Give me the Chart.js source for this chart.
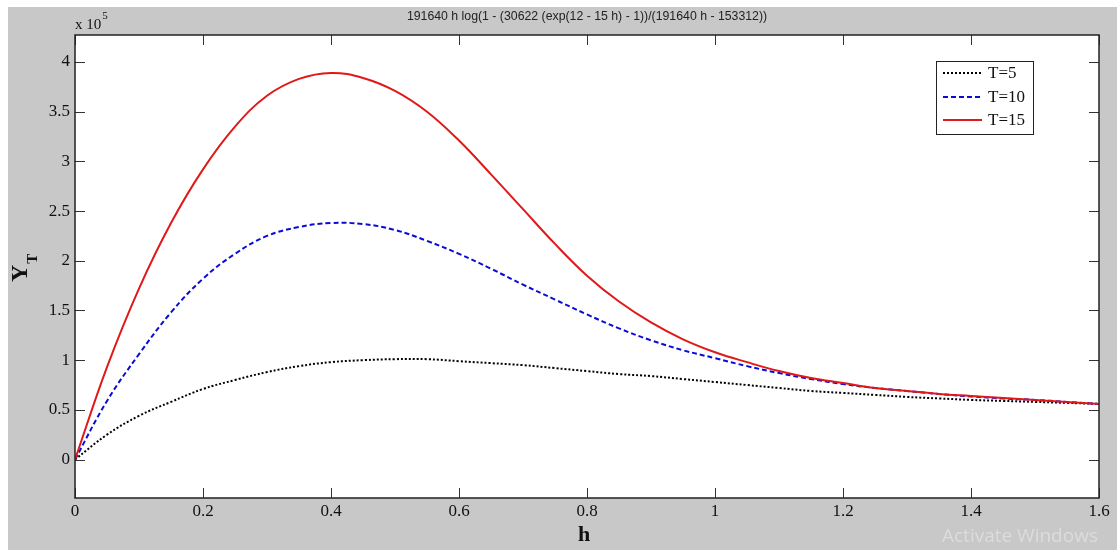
<!DOCTYPE html>
<html>
<head>
<meta charset="utf-8">
<title>Y_T versus h</title>
<script src="https://cdn.jsdelivr.net/npm/chart.js@4.4.1/dist/chart.umd.min.js"></script>
<style>
  html, body { margin: 0; padding: 0; background: #fff; }
  canvas { display: block; }
</style>
</head>
<body>
<canvas id="ytChart" width="1117" height="550"></canvas>
<script>
// h grid shared by all three curves
const hValues = [0, 0.05, 0.1, 0.15, 0.2, 0.25, 0.3, 0.35, 0.4, 0.45, 0.5, 0.55, 0.6, 0.65, 0.7, 0.75,
  0.8, 0.85, 0.9, 0.95, 1, 1.05, 1.1, 1.15, 1.2, 1.25, 1.3, 1.35, 1.4, 1.45, 1.5, 1.55, 1.6];

// Y_T in units of 1e5
const yT5 = [0, 0.25, 0.44, 0.58, 0.71, 0.80, 0.88, 0.94, 0.98, 1.00, 1.01, 1.01, 0.99, 0.97, 0.95, 0.92,
  0.89, 0.86, 0.84, 0.81, 0.78, 0.75, 0.72, 0.69, 0.67, 0.65, 0.63, 0.615, 0.60, 0.59, 0.58, 0.57, 0.56];
const yT10 = [0, 0.59, 1.06, 1.48, 1.82, 2.07, 2.25, 2.34, 2.38, 2.37, 2.31, 2.20, 2.07, 1.92, 1.76, 1.61,
  1.46, 1.32, 1.20, 1.10, 1.02, 0.94, 0.87, 0.81, 0.76, 0.72, 0.69, 0.66, 0.635, 0.615, 0.60, 0.58, 0.56];
const yT15 = [0, 0.93, 1.72, 2.38, 2.92, 3.35, 3.66, 3.83, 3.89, 3.84, 3.71, 3.50, 3.21, 2.87, 2.52, 2.17,
  1.85, 1.59, 1.38, 1.21, 1.08, 0.98, 0.89, 0.82, 0.77, 0.72, 0.69, 0.66, 0.64, 0.62, 0.60, 0.58, 0.56];

const seriesNames = ["T=5", "T=10", "T=15"];
const xTicks = [0, 0.2, 0.4, 0.6, 0.8, 1, 1.2, 1.4, 1.6];
const yTicks = [0, 0.5, 1, 1.5, 2, 2.5, 3, 3.5, 4];
const plotTitle = "191640 h log(1 - (30622 (exp(12 - 15 h) - 1))/(191640 h - 153312))";

const serif = "'Liberation Serif', 'Times New Roman', serif";

const toPoints = ys => hValues.map((h, i) => ({ x: h, y: ys[i] }));

// figure background, boxed axes with inward ticks, labels and legend
const framePlugin = {
  id: "frame",
  beforeDraw(chart) {
    const { ctx, chartArea: a, width, height } = chart;
    ctx.save();
    ctx.fillStyle = "#fff";
    ctx.fillRect(0, 0, width, height);
    ctx.fillStyle = "#c8c8c8";
    ctx.fillRect(8, 7, width - 8, height - 7);
    ctx.fillStyle = "#fff";
    ctx.fillRect(a.left, a.top, a.right - a.left, a.bottom - a.top);
    ctx.restore();
  },
  afterDraw(chart) {
    const { ctx, chartArea: a, scales } = chart;
    ctx.save();

    ctx.strokeStyle = "#333";
    ctx.lineWidth = 1;
    ctx.beginPath();
    scales.x.ticks.forEach(t => {
      const px = Math.round(scales.x.getPixelForValue(t.value)) + 0.5;
      ctx.moveTo(px, a.bottom); ctx.lineTo(px, a.bottom - 10);
      ctx.moveTo(px, a.top); ctx.lineTo(px, a.top + 10);
    });
    scales.y.ticks.forEach(t => {
      const py = Math.round(scales.y.getPixelForValue(t.value)) + 0.5;
      ctx.moveTo(a.left, py); ctx.lineTo(a.left + 10, py);
      ctx.moveTo(a.right, py); ctx.lineTo(a.right - 10, py);
    });
    ctx.stroke();

    ctx.lineWidth = 1.5;
    ctx.strokeStyle = "#222";
    ctx.strokeRect(a.left, a.top, a.right - a.left, a.bottom - a.top);

    // title
    ctx.fillStyle = "#222";
    ctx.font = "12.3px 'Liberation Sans', Arial, sans-serif";
    ctx.textAlign = "center";
    ctx.textBaseline = "middle";
    ctx.fillText(plotTitle, (a.left + a.right) / 2, 17);

    // exponent label
    ctx.fillStyle = "#111";
    ctx.textAlign = "left";
    ctx.textBaseline = "alphabetic";
    ctx.font = "15px " + serif;
    ctx.fillText("x 10", 75, 29);
    const ew = ctx.measureText("x 10").width;
    ctx.font = "11px " + serif;
    ctx.fillText("5", 75 + ew + 1, 19);

    // x axis title
    ctx.font = "bold 22px " + serif;
    ctx.textAlign = "center";
    ctx.fillText("h", 584, 541);

    // y axis title with subscript
    ctx.save();
    ctx.translate(27, 282);
    ctx.rotate(-Math.PI / 2);
    ctx.textAlign = "left";
    ctx.font = "bold 24px " + serif;
    ctx.fillText("Y", 0, 0);
    const yw = ctx.measureText("Y").width;
    ctx.font = "bold 15px " + serif;
    ctx.fillText("T", yw + 1, 10);
    ctx.restore();

    // legend
    const lx = 936, ly = 61, lw = 97, lh = 73;
    ctx.fillStyle = "#fff";
    ctx.fillRect(lx, ly, lw, lh);
    ctx.strokeStyle = "#222";
    ctx.lineWidth = 1;
    ctx.strokeRect(lx + 0.5, ly + 0.5, lw, lh);
    const rows = [73, 97, 120];
    chart.data.datasets
      .slice()
      .sort((p, q) => seriesNames.indexOf(p.label) - seriesNames.indexOf(q.label))
      .forEach((ds, i) => {
        ctx.strokeStyle = ds.borderColor;
        ctx.lineWidth = ds.borderWidth;
        ctx.setLineDash(ds.borderDash || []);
        ctx.beginPath();
        ctx.moveTo(943, rows[i]);
        ctx.lineTo(982, rows[i]);
        ctx.stroke();
        ctx.setLineDash([]);
        ctx.fillStyle = "#111";
        ctx.font = "17px " + serif;
        ctx.textAlign = "left";
        ctx.textBaseline = "middle";
        ctx.fillText(ds.label, 988, rows[i] + 1);
      });

    // OS watermark
    ctx.fillStyle = "#dcdcdc";
    ctx.font = "19px 'Open Sans', 'Noto Sans', sans-serif";
    ctx.textAlign = "left";
    ctx.textBaseline = "middle";
    ctx.fillText("Activate Windows", 942, 537);

    ctx.restore();
  }
};

const tickFont = { family: serif, size: 17 };

new Chart(document.getElementById("ytChart").getContext("2d"), {
  type: "line",
  data: {
    datasets: [
      {
        label: seriesNames[2],
        data: toPoints(yT15),
        borderColor: "#e01818",
        borderWidth: 2,
        order: 0
      },
      {
        label: seriesNames[1],
        data: toPoints(yT10),
        borderColor: "#0b0bd6",
        borderWidth: 2,
        borderDash: [5, 3],
        order: 1
      },
      {
        label: seriesNames[0],
        data: toPoints(yT5),
        borderColor: "#000",
        borderWidth: 2,
        borderDash: [2, 2],
        order: 2
      }
    ]
  },
  options: {
    responsive: false,
    animation: false,
    events: [],
    elements: { point: { radius: 0 }, line: { tension: 0.4 } },
    layout: { padding: { left: 0, right: 18, top: 35, bottom: 0 } },
    plugins: {
      legend: { display: false },
      title: { display: false },
      tooltip: { enabled: false }
    },
    scales: {
      x: {
        type: "linear",
        min: 0,
        max: 1.6,
        afterBuildTicks: axis => { axis.ticks = xTicks.map(v => ({ value: v })); },
        afterFit: scale => { scale.height = 52; },
        grid: { display: false, drawTicks: false },
        border: { display: false },
        ticks: { padding: 3, font: tickFont, color: "#111", maxRotation: 0, autoSkip: false, callback: v => String(v) }
      },
      y: {
        type: "linear",
        min: -0.387,
        max: 4.272,
        afterBuildTicks: axis => { axis.ticks = yTicks.map(v => ({ value: v })); },
        afterFit: scale => { scale.width = 75; },
        grid: { display: false, drawTicks: false },
        border: { display: false },
        ticks: { padding: 5, font: tickFont, color: "#111", autoSkip: false, callback: v => String(v) }
      }
    }
  },
  plugins: [framePlugin]
});
</script>
</body>
</html>
